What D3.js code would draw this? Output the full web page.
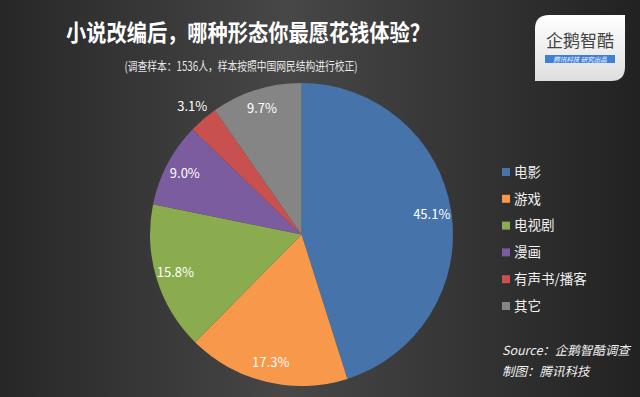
<!DOCTYPE html>
<html><head><meta charset="utf-8">
<script src="https://cdn.jsdelivr.net/npm/d3@7"></script>
<style>html,body{margin:0;padding:0;background:#333;}svg{display:block;}</style>
</head><body>
<svg id="c" width="640" height="397"></svg>
<script>
const categories = ["电影", "游戏", "电视剧", "漫画", "有声书/播客", "其它"];
const values = [45.1, 17.3, 15.8, 9.0, 3.1, 9.7];
const colors = ["#4673a9", "#f7984a", "#8aac4e", "#7b5c9e", "#c8504f", "#858585"];
const titleText = "小说改编后，哪种形态你最愿花钱体验？";
const subtitleText = "(调查样本：1536人，样本按照中国网民结构进行校正)";
const sourceLines = ["Source：企鹅智酷调查", "制图：腾讯科技"];

const W = 640, H = 397;
const svg = d3.select("#c");
const defs = svg.append("defs");
const bg = defs.append("linearGradient").attr("id", "bg").attr("x1", 0).attr("x2", 1).attr("y1", 0).attr("y2", 0);
bg.append("stop").attr("offset", "0%").attr("stop-color", "#272727");
bg.append("stop").attr("offset", "45%").attr("stop-color", "#474747");
bg.append("stop").attr("offset", "100%").attr("stop-color", "#222222");
svg.append("rect").attr("width", W).attr("height", H).attr("fill", "url(#bg)");

const font = "'Noto Sans CJK SC', 'Microsoft YaHei', sans-serif";

svg.append("text").attr("x", 248).attr("y", 41).attr("text-anchor", "middle")
  .attr("font-family", font).attr("font-weight", "bold").attr("font-size", 23)
  .attr("textLength", 364).attr("lengthAdjust", "spacingAndGlyphs")
  .attr("fill", "#ffffff").text(titleText);
svg.append("text").attr("x", 241).attr("y", 71).attr("text-anchor", "middle")
  .attr("font-family", font).attr("font-size", 12.5)
  .attr("textLength", 233).attr("lengthAdjust", "spacingAndGlyphs")
  .attr("fill", "#e6e6e6").text(subtitleText);

// logo
const lg = svg.append("g").attr("transform", "translate(535,15)");
const lgGrad = defs.append("linearGradient").attr("id", "lg").attr("x1", 0).attr("x2", 0).attr("y1", 0).attr("y2", 1);
lgGrad.append("stop").attr("offset", "0%").attr("stop-color", "#ffffff");
lgGrad.append("stop").attr("offset", "100%").attr("stop-color", "#dedede");
lg.append("path").attr("d", "M14,0 H90 V52 Q90,66 76,66 H0 V14 Q0,0 14,0 Z").attr("fill", "url(#lg)");
lg.append("text").attr("x", 45).attr("y", 32).attr("text-anchor", "middle")
  .attr("font-family", font).attr("font-size", 17).attr("fill", "#444").text("企鹅智酷");
lg.append("rect").attr("x", 10).attr("y", 40).attr("width", 70).attr("height", 8).attr("fill", "#3f7fd8");
lg.append("text").attr("x", 45).attr("y", 46.5).attr("text-anchor", "middle")
  .attr("font-family", font).attr("font-style", "italic").attr("font-size", 6.5).attr("fill", "#fff").text("腾讯科技  研究出品");

// pie
const cx = 301.5, cy = 234.5, R = 151.5;
const pie = d3.pie().sort(null).value(d => d.v);
const data = pie(categories.map((c, i) => ({ c, v: values[i], col: colors[i] })));
const arc = d3.arc().innerRadius(0).outerRadius(R);
const g = svg.append("g").attr("transform", `translate(${cx},${cy})`);
g.selectAll("path.s").data(data).join("path").attr("class", "s")
  .attr("d", arc).attr("fill", d => d.data.col);

const inArc = d3.arc().innerRadius(R * 0.87).outerRadius(R * 0.87);
const outArc = d3.arc().innerRadius(R * 1.11).outerRadius(R * 1.11);
g.selectAll("text.l").data(data).join("text").attr("class", "l")
  .attr("transform", d => `translate(${(d.data.v < 5 ? outArc : inArc).centroid(d)})`)
  .attr("text-anchor", "middle").attr("dy", "0.35em")
  .attr("font-family", font).attr("font-size", 13).attr("fill", "#ffffff")
  .text(d => d3.format(".1f")(d.data.v) + "%");

// legend
const ly = d3.scalePoint().domain(categories).range([172, 306]);
const leg = svg.append("g").selectAll("g").data(categories).join("g")
  .attr("transform", d => `translate(502,${ly(d)})`);
leg.append("rect").attr("x", 0).attr("y", -4).attr("width", 8).attr("height", 8)
  .attr("fill", (d, i) => colors[i]);
leg.append("text").attr("x", 12).attr("dy", "0.35em")
  .attr("font-family", font).attr("font-size", 13.5).attr("fill", "#f0f0f0").text(d => d);

// source
svg.append("g").selectAll("text").data(sourceLines).join("text")
  .attr("x", 502).attr("y", (d, i) => 355 + i * 21)
  .attr("font-family", font).attr("font-style", "italic").attr("font-size", 12.5)
  .attr("fill", "#f0f0f0").text(d => d);
</script>
</body></html>
